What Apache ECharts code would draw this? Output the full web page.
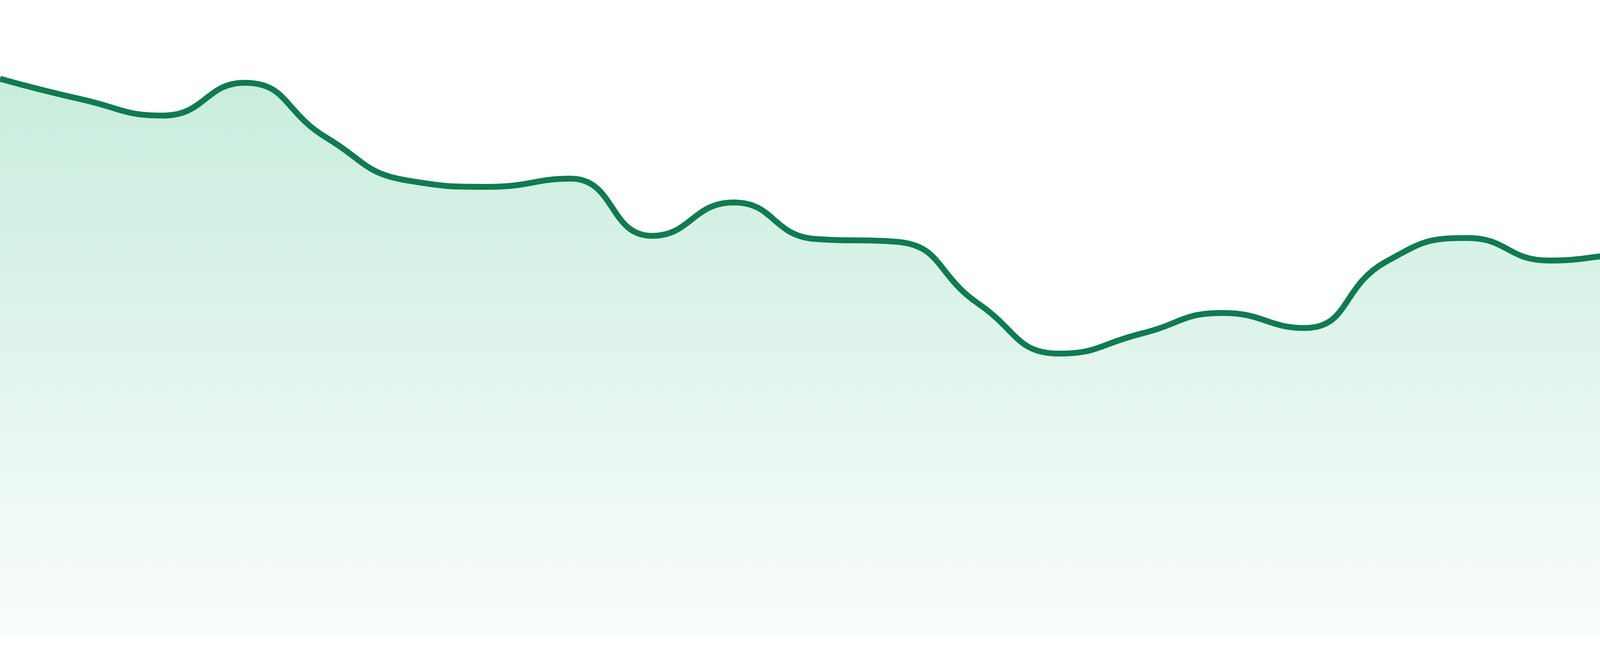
<!DOCTYPE html>
<html>
<head>
<meta charset="utf-8">
<style>
html,body{margin:0;padding:0;background:#ffffff;}
#chart{width:4800px;height:1680px;}
</style>
<script src="https://cdn.jsdelivr.net/npm/echarts@6/dist/echarts.min.js"></script>
</head>
<body>
<div id="chart"></div>
<script>
var categories = ['1','2','3','4','5','6','7','8','9','10','11','12','13','14','15','16','17','18','19','20','21','22','23','24'];
var values = [89.4, 86.1, 83.5, 88.75, 80.0, 73.1, 72.1, 73.4, 64.25, 69.6, 63.75, 63.3, 53.4, 45.4, 48.6, 51.9, 49.5, 60.1, 63.9, 60.3, 61.2, 57.7, 48.4, 43.3];

var chart = echarts.init(document.getElementById('chart'), null, {renderer: 'canvas'});
chart.setOption({
  animation: false,
  backgroundColor: '#ffffff',
  grid: {left: 0, right: 0, top: 32, bottom: 48},
  xAxis: {
    type: 'category',
    data: categories,
    boundaryGap: false,
    show: false
  },
  yAxis: {
    type: 'value',
    min: 0,
    max: 100,
    show: false
  },
  series: [{
    type: 'line',
    data: values,
    smooth: true,
    showSymbol: false,
    lineStyle: {color: '#107b51', width: 15},
    itemStyle: {color: '#107b51'},
    areaStyle: {
      color: new echarts.graphic.LinearGradient(0, 0, 0, 1, [
        {offset: 0, color: '#b0e5ce'},
        {offset: 1, color: '#f8fcfa'}
      ])
    }
  }]
});
</script>
</body>
</html>
